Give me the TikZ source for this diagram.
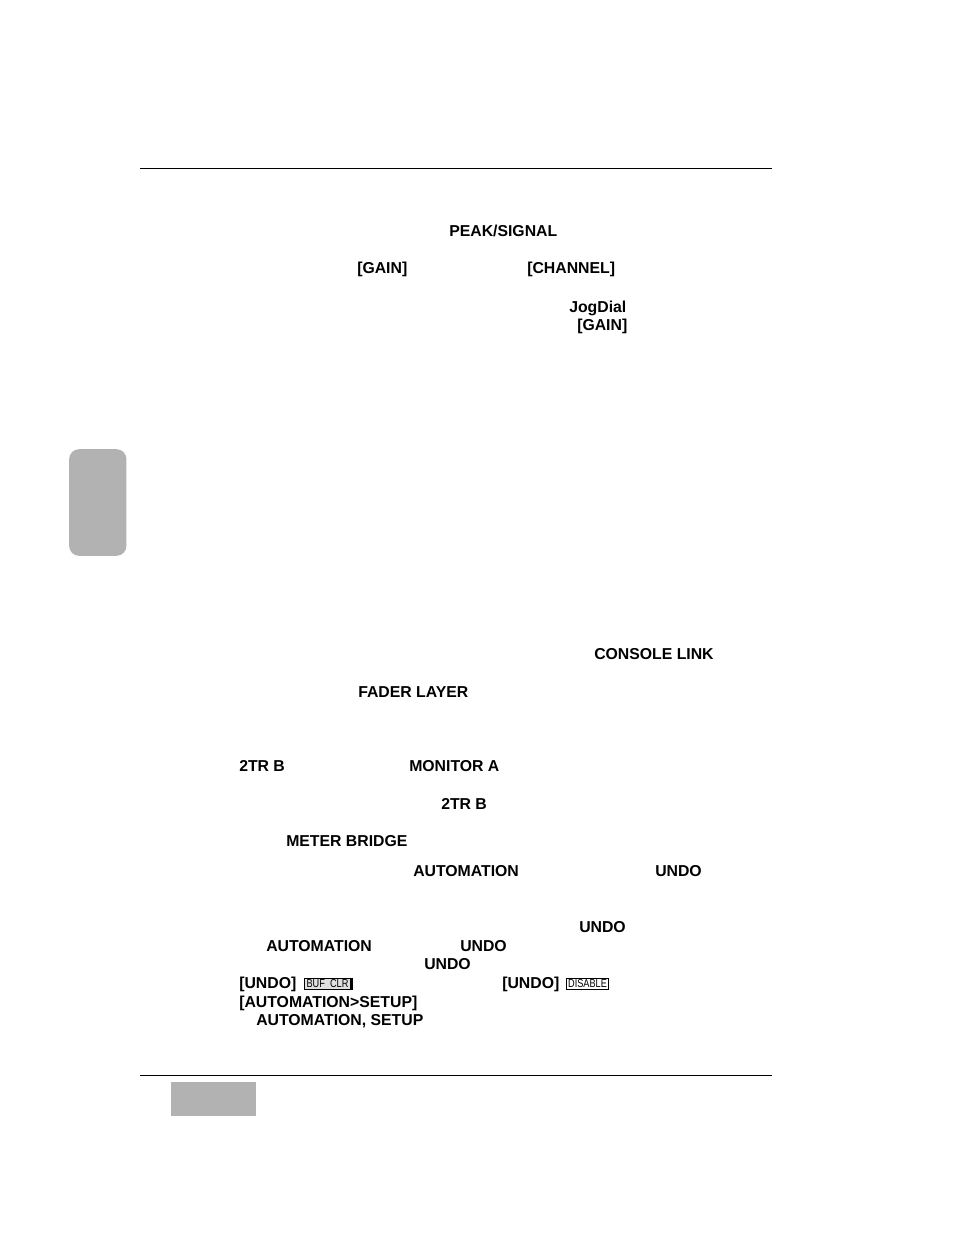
\documentclass[tikz,border=0pt]{standalone}
\usepackage{fontspec}
\setmainfont{Liberation Sans}
\newfontfamily\lcdfont[FakeStretch=0.8]{Liberation Sans}
\tikzstyle{kw} = [anchor=base west, inner sep=0pt, font=\fontsize{11.85pt}{14pt}\selectfont\bfseries]
\tikzstyle{btn} = [anchor=center, inner sep=0pt, draw=black, line width=0.75pt, minimum height=8.5pt, font=\fontsize{8.6pt}{9pt}\lcdfont]
\tikzstyle{btnon} = [btn, fill=black!12, line width=1.1pt]
\tikzstyle{rule} = [line width=1.1pt, black]
\tikzstyle{shade} = [fill=black!30, draw=none]
\begin{document}
\begin{tikzpicture}[x=0.75pt, y=-0.75pt]

    \useasboundingbox (0,0) rectangle (954,1235);

    \coordinate (topl) at (140,168.5);
    \coordinate (topr) at (772,168.5);
    \coordinate (botl) at (140,1075.5);
    \coordinate (botr) at (772,1075.5);
    \draw [rule] (topl) -- (topr);
    \draw [rule] (botl) -- (botr);

    \node (tab) [shade, rounded corners=7.5pt, minimum width=43pt, minimum height=80pt, inner sep=0pt] at (97.8,502.5) {};
    \node (folio) [shade, minimum width=63.75pt, minimum height=25.5pt, inner sep=0pt] at (213.5,1099) {};

    \node (peak) [kw] at (449,236) {PEAK/SIGNAL};
    \node (gain1) [kw] at (357,273) {[GAIN]};
    \node (channel) [kw] at (527,273) {[CHANNEL]};
    \node (jog) [kw] at (569,312) {JogDial};
    \node (gain2) [kw] at (577,330) {[GAIN]};
    \node (console) [kw] at (594,659) {CONSOLE LINK};
    \node (fader) [kw] at (358,697) {FADER LAYER};
    \node (twotr1) [kw] at (239,771) {2TR B};
    \node (monitor) [kw] at (409,771) {MONITOR A};
    \node (twotr2) [kw] at (441,809) {2TR B};
    \node (meter) [kw] at (286,846) {METER BRIDGE};
    \node (auto1) [kw] at (413,876) {AUTOMATION};
    \node (undo1) [kw] at (655,876) {UNDO};
    \node (undo2) [kw] at (579,932) {UNDO};
    \node (auto2) [kw] at (266,951) {AUTOMATION};
    \node (undo3) [kw] at (460,951) {UNDO};
    \node (undo4) [kw] at (424,969) {UNDO};
    \node (undo5) [kw] at (239,988) {[UNDO]};
    \node (bufclr) [btnon, minimum width=34.5pt] at (327.5,984) {BUF\ \ CLR};
    \draw [line width=2pt] (bufclr.north east) -- (bufclr.south east);
    \node (undo6) [kw] at (502,988) {[UNDO]};
    \node (disable) [btn, minimum width=31.5pt] at (587.5,984) {DISABLE};
    \node (autosetup) [kw] at (239,1007) {[AUTOMATION>SETUP]};
    \node (setup) [kw] at (256,1025) {AUTOMATION, SETUP};

\end{tikzpicture}
\end{document}
